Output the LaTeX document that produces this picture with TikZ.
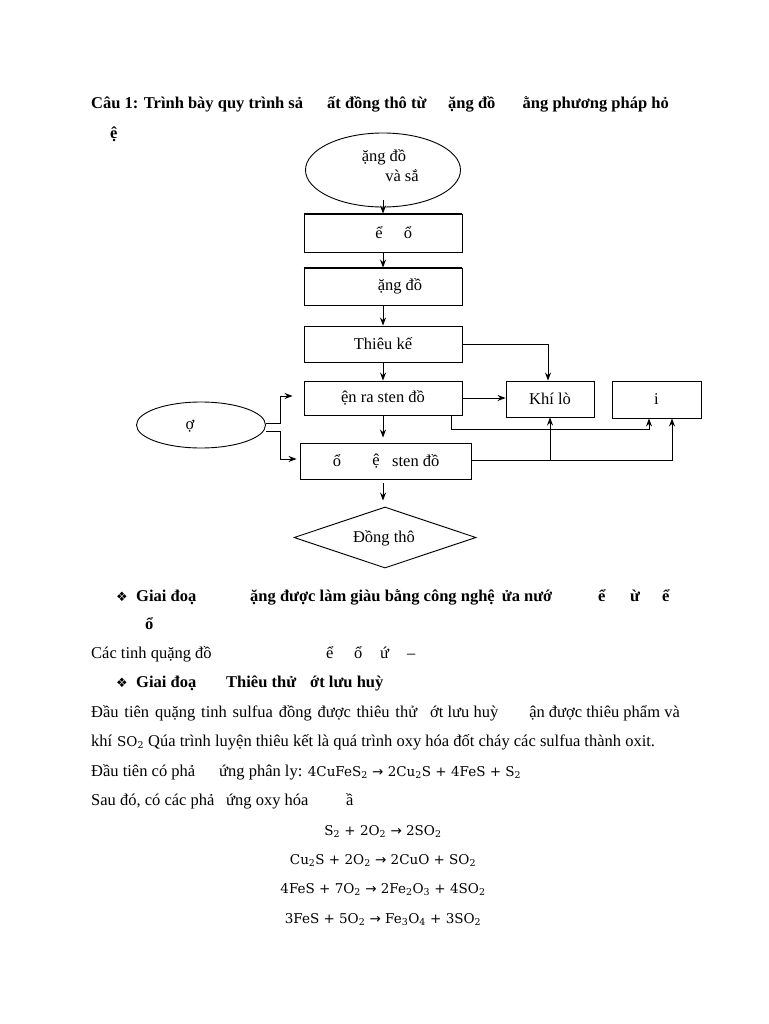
\documentclass[tikz,border=0pt]{standalone}
\usepackage{fontspec}
\setmainfont{Liberation Serif}
\newfontfamily\eqfont{DejaVu Serif}
\newfontfamily\symfont{DejaVu Sans}
\usetikzlibrary{shapes.geometric,arrows.meta}
\newcommand\sbt[1]{\textsubscript{#1}}
\newcommand\arw{{\symfont →}}
\begin{document}
\begin{tikzpicture}[x=1pt,y=-1pt,
  every node/.style={font=\fontsize{16.5}{19}\selectfont},
  txt/.style={anchor=base west,inner sep=0pt},
  etxt/.style={anchor=base east,inner sep=0pt},
  btxt/.style={anchor=base west,inner sep=0pt,font=\fontsize{16.5}{19}\selectfont\bfseries},
  ctxt/.style={anchor=center,inner sep=0pt},
  eq/.style={anchor=base,inner sep=0pt,font=\fontsize{13.5}{16}\selectfont\eqfont},
  bx/.style={draw,line width=0.9pt,rectangle,inner sep=0pt},
  ell/.style={draw,line width=0.9pt,ellipse,inner sep=0pt},
  arr/.style={draw,line width=0.9pt,-{Stealth[length=8pt,width=6pt]}},
  bul/.style={anchor=base west,inner sep=0pt,font=\fontsize{13}{15}\selectfont\symfont}]
\useasboundingbox[fill=white] (0,0) rectangle (768,1024);

% title
\node[btxt] (t1) at (91,109) {Câu 1: Trình bày quy trình sả};
\node[btxt] (t2) at (327,109) {ất đồng thô từ};
\node[btxt] (t3) at (448,109) {ặng đồ};
\node[btxt,anchor=base east] (t4) at (669,109) {ằng phương pháp hỏ};
\node[btxt] (t5) at (110,139) {ệ};

% flowchart
\node[ell,minimum width=155pt,minimum height=74pt] (e1) at (383,170) {};
\node[ctxt] (e1a) at (384,157) {ặng đồ};
\node[ctxt] (e1b) at (402,176) {và sắ};

\node[bx,minimum width=158pt,minimum height=38pt] (b1) at (383,233) {};
\node[ctxt] (b1a) at (379,233) {ể};
\node[ctxt] (b1b) at (408,233) {ổ};

\node[bx,minimum width=158pt,minimum height=37pt] (b2) at (383,286.5) {};
\node[ctxt] (b2a) at (400,286) {ặng đồ};

\node[bx,minimum width=158pt,minimum height=36pt] (b3) at (383,344) {Thiêu kế};
\node[bx,minimum width=158pt,minimum height=34pt] (b4) at (383,398) {ện ra sten đồ};
\node[bx,minimum width=88pt,minimum height=36pt] (khi) at (550,399) {Khí lò};
\node[bx,minimum width=89pt,minimum height=37pt] (ib) at (656.5,399.5) {i};
\node[bx,minimum width=171pt,minimum height=36pt] (b5) at (385.5,461) {};
\node[ctxt] (b5a) at (337,461) {ổ};
\node[ctxt] (b5b) at (376,461) {ệ};
\node[txt] (b5c) at (392,466) {sten đồ};

\node[ell,minimum width=129pt,minimum height=46pt] (e2) at (201,425) {};
\node[ctxt] (e2a) at (190,426) {ợ};

\node[draw,line width=0.9pt,diamond,inner sep=0pt,minimum width=182pt,minimum height=61pt] (d) at (385,537.5) {};
\node[ctxt] (da) at (384,538) {Đồng thô};

% thick edges
\draw[line width=1.8pt] (b1.north west) -- (b1.north east);
\draw[line width=1.8pt] (b2.north west) -- (b2.north east);
\draw[line width=1.8pt] (ib.south west) -- (ib.south east);

% connectors
\draw[arr] ([yshift=7pt]e1.south) -- (b1.north);
\draw[arr] (b1.south) -- (b2.north);
\draw[arr] (b2.south) -- (b3.north);
\draw[arr] (b3.south) -- (b4.north);
\draw[arr] (b4.south) -- ([yshift=5pt]b4.south |- b5.north);
\draw[arr] ([yshift=-4pt]b5.south -| b4.south) -- ([yshift=6pt]d.north -| b4.south);
\draw[arr] (b3.east) -| ([xshift=-2pt]khi.north);
\draw[arr] (b4.east) -- (b4.east -| khi.west);
\coordinate (j1) at (649,429);
\coordinate (j2) at (672,460);
\draw[arr] ([xshift=-11pt]b4.south east) |- (j1) -- (j1 |- ib.south);
\draw[arr] (b5.east |- j2) -- (j2) -- (j2 |- ib.south);
\draw[arr] (khi.south |- j2) -- (khi.south);
\draw[arr] ([yshift=2pt]e2.east) -- ++(14,0) |- ([xshift=-11pt,yshift=2pt]b4.west);
\draw[arr] ([yshift=-6pt]e2.east) -- ++(14,0) |- ([xshift=-3pt,yshift=2pt]b5.west);

% bullet 1
\node[bul] (p1) at (116,601) {❖};
\node[btxt] (p1a) at (136,601) {Giai đoạ};
\node[btxt] (p1b) at (250,601) {ặng được làm giàu bằng công nghệ\hspace{3pt} ửa nướ};
\node[btxt] (p1c) at (598,601) {ể};
\node[btxt] (p1d) at (630,601) {ừ};
\node[btxt] (p1e) at (662,601) {ể};
\node[btxt] (p1f) at (145,629) {ổ};

% cac tinh
\node[txt] (c1) at (91,658) {Các tinh quặng đồ};
\node[txt] (c2) at (326,658) {ể};
\node[txt] (c3) at (354,658) {ổ};
\node[txt] (c4) at (380,658) {ứ};
\node[txt] (c5) at (407,658) {–};

% bullet 2
\node[bul] (q1) at (116,687) {❖};
\node[btxt] (q1a) at (136,687) {Giai đoạ};
\node[btxt] (q1b) at (226,687) {Thiêu thử};
\node[btxt] (q1c) at (310,687) {ớt lưu huỳ};

% paragraph
\node[txt] (r1) at (91,717) {\makebox[326pt][s]{Đầu tiên quặng tinh sulfua đồng được thiêu thử}};
\node[txt] (r2) at (430,717) {ớt lưu huỳ};
\node[etxt] (r3) at (680,717) {ận được thiêu phẩm và};

\node[txt] (s1) at (91,746) {khí};
\node[txt,font=\fontsize{13.5}{16}\selectfont\eqfont] (s2) at (117,746) {SO\sbt{2}};
\node[txt] (s3) at (148,746) {Qúa trình luyện thiêu kết là quá trình oxy hóa đốt cháy các sulfua thành oxit.};

\node[txt] (u1) at (91,776) {Đầu tiên có phả};
\node[txt] (u2) at (219,776) {ứng phân ly: {\fontsize{13.5}{16}\selectfont\eqfont 4CuFeS\sbt{2} \arw{} 2Cu\sbt{2}S + 4FeS + S\sbt{2}}};

\node[txt] (v1) at (91,805) {Sau đó, có các phả};
\node[txt] (v2) at (226,805) {ứng oxy hóa};
\node[txt] (v3) at (346,805) {ầ};

% equations
\node[eq] (q1e) at (383,835) {S\sbt{2} + 2O\sbt{2} \arw{} 2SO\sbt{2}};
\node[eq] (q2e) at (383,864) {Cu\sbt{2}S + 2O\sbt{2} \arw{} 2CuO + SO\sbt{2}};
\node[eq] (q3e) at (383,893) {4FeS + 7O\sbt{2} \arw{} 2Fe\sbt{2}O\sbt{3} + 4SO\sbt{2}};
\node[eq] (q4e) at (383,923) {3FeS + 5O\sbt{2} \arw{} Fe\sbt{3}O\sbt{4} + 3SO\sbt{2}};
\end{tikzpicture}
\end{document}
